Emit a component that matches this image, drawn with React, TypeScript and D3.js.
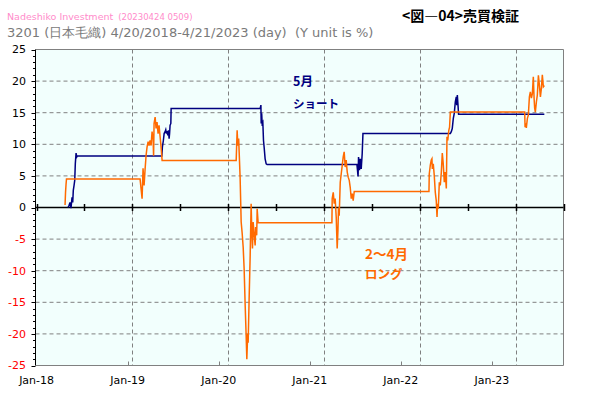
import React from 'react';
import * as d3 from 'd3';

// Long (Feb–Apr) strategy cumulative return, [decimal year, %]
const longSeries: [number, number][] = [
  [2018.298, 0.4], [2018.303, 2.4], [2018.308, 3.6], [2018.313, 4.5],
  [2019.081, 4.5], [2019.091, 3.0], [2019.102, 1.4], [2019.112, 6.2], [2019.123, 3.5],
  [2019.133, 6.0], [2019.144, 8.3], [2019.154, 9.6], [2019.165, 10.4], [2019.175, 9.8],
  [2019.185, 10.6], [2019.196, 9.8], [2019.206, 12.0], [2019.217, 10.8], [2019.222, 8.2],
  [2019.227, 13.3], [2019.238, 14.3], [2019.248, 12.5], [2019.258, 13.5], [2019.269, 11.7],
  [2019.279, 13.0], [2019.290, 11.2], [2019.300, 9.6], [2019.311, 7.45],
  [2020.084, 7.45], [2020.094, 12.2], [2020.101, 9.8], [2020.110, 10.9], [2020.115, 8.8],
  [2020.125, 4.8], [2020.136, -2.3], [2020.146, -4.0], [2020.157, -6.3], [2020.167, -9.7],
  [2020.178, -15.6], [2020.188, -20.3], [2020.195, -24.0], [2020.204, -20.0], [2020.209, -21.4],
  [2020.219, -14.5], [2020.230, -7.6], [2020.240, 0.6], [2020.248, -4.4], [2020.254, -6.5],
  [2020.261, -2.3], [2020.272, -4.4], [2020.282, -6.0], [2020.287, -3.1], [2020.298, -4.4],
  [2020.303, -0.2], [2020.313, -2.43],
  [2021.083, -2.43], [2021.086, 1.4], [2021.097, 2.4], [2021.107, 0.6], [2021.117, 1.4],
  [2021.128, -1.5], [2021.138, -6.5], [2021.146, -3.6], [2021.152, 0.0], [2021.159, -1.3],
  [2021.170, 4.0], [2021.180, 5.3], [2021.191, 6.7], [2021.201, 8.0], [2021.211, 8.8],
  [2021.222, 6.4], [2021.232, 7.5], [2021.243, 5.6], [2021.253, 4.8], [2021.264, 4.3],
  [2021.274, 3.2], [2021.285, 1.4], [2021.295, 2.2], [2021.305, 1.1], [2021.316, 2.55],
  [2022.096, 2.55], [2022.099, 5.3], [2022.110, 6.7], [2022.120, 7.5], [2022.127, 7.7],
  [2022.131, 6.1], [2022.141, 6.9], [2022.151, 5.1], [2022.162, 2.4], [2022.172, 1.1],
  [2022.180, -1.5], [2022.186, 0.6], [2022.193, -0.2], [2022.204, 4.0], [2022.214, 3.5],
  [2022.225, 5.6], [2022.235, 8.6], [2022.245, 6.9], [2022.256, 4.0], [2022.266, 5.6],
  [2022.277, 3.0], [2022.284, 11.2], [2022.292, 10.6], [2022.303, 12.2], [2022.311, 12.7],
  [2022.319, 15.1],
  [2023.095, 15.1], [2023.099, 12.7], [2023.105, 13.3], [2023.112, 12.6], [2023.123, 14.1],
  [2023.133, 14.6], [2023.144, 17.5], [2023.154, 18.3], [2023.165, 17.3], [2023.175, 18.0],
  [2023.185, 20.7], [2023.193, 17.3], [2023.199, 15.7], [2023.206, 15.1], [2023.217, 16.7],
  [2023.227, 17.8], [2023.238, 20.9], [2023.248, 19.4], [2023.259, 17.5], [2023.269, 18.8],
  [2023.279, 21.0], [2023.290, 19.1], [2023.300, 19.3],
];

// Short (May) strategy cumulative return, [decimal year, %]
const shortSeries: [number, number][] = [
  [2018.329, 0.0], [2018.339, 0.3], [2018.350, 0.8], [2018.360, -0.1], [2018.371, 1.6],
  [2018.378, 0.8], [2018.384, 2.7], [2018.392, 3.5], [2018.399, 4.3], [2018.405, 6.9],
  [2018.413, 8.6], [2018.420, 8.0], [2018.426, 8.15],
  [2019.308, 8.15], [2019.314, 9.6], [2019.324, 10.6], [2019.332, 11.7], [2019.342, 12.0],
  [2019.349, 12.3], [2019.356, 11.7], [2019.363, 12.1], [2019.370, 11.4], [2019.377, 12.2],
  [2019.384, 10.9], [2019.389, 11.7], [2019.394, 13.0], [2019.402, 13.3], [2019.405, 15.65],
  [2020.334, 15.65], [2020.342, 16.2], [2020.345, 13.3], [2020.350, 14.9], [2020.355, 13.3],
  [2020.362, 13.5], [2020.369, 10.6], [2020.376, 9.5], [2020.386, 7.7], [2020.397, 6.9],
  [2020.407, 6.8],
  [2021.344, 6.8], [2021.350, 5.9], [2021.356, 4.9], [2021.361, 8.0], [2021.371, 5.9],
  [2021.379, 7.7], [2021.389, 6.1], [2021.399, 8.5], [2021.407, 11.7],
  [2022.319, 11.7], [2022.329, 12.0], [2022.339, 12.5], [2022.350, 14.1], [2022.360, 14.9],
  [2022.371, 16.7], [2022.381, 17.5], [2022.386, 16.2], [2022.392, 17.8], [2022.399, 16.2],
  [2022.405, 14.75],
  [2023.300, 14.75],
];

const yMajorTicks = [-25, -20, -15, -10, -5, 0, 5, 10, 15, 20, 25];
const yMinorTicks = d3.range(-25, 26, 1);
const gridYears = [2019, 2020, 2021, 2022, 2023];
const halfYearTicks = [2018, 2018.5, 2019, 2019.5, 2020, 2020.5, 2021, 2021.5, 2022, 2022.5, 2023, 2023.5];
const axisYears = [2018, 2019, 2020, 2021, 2022, 2023];
const axisLabels = ['Jan-18', 'Jan-19', 'Jan-20', 'Jan-21', 'Jan-22', 'Jan-23'];

const ORANGE = '#ff6a00';
const NAVY = '#000080';
const GRID = '#808080';
const FONT = "'DejaVu Sans', Verdana, sans-serif";
const CJK = "'Noto Sans CJK JP', sans-serif";

export default function App() {
  const left = 35.5, right = 563.5, top = 49.5, bottom = 365.5;
  const x = d3.scaleLinear().domain([2018, 2023.5]).range([36.5, right]);
  const xAxis = d3.scaleLinear().domain([2018, 2023]).range([36.6, 491.9]);
  const y = d3.scaleLinear().domain([-25, 25]).range([bottom, top]);
  const line = d3.line<[number, number]>().x(d => x(d[0])).y(d => y(d[1]));

  return (
    <svg width={590} height={396} style={{ position: 'absolute', left: 0, top: 0, background: '#fff' }}>
      {/* plot background */}
      <rect x={left} y={top} width={right - left} height={bottom - top} fill="#f2fffd" />
      {/* horizontal grid */}
      {yMajorTicks.filter(v => v !== 0 && Math.abs(v) !== 25).map(v => (
        <line key={'hg' + v} x1={left} x2={right} y1={y(v)} y2={y(v)} stroke={GRID} strokeDasharray="4,3" strokeWidth={1} />
      ))}
      {/* vertical grid */}
      {gridYears.map(t => (
        <line key={'vg' + t} x1={Math.round(x(t)) + 0.5} x2={Math.round(x(t)) + 0.5} y1={top} y2={bottom} stroke={GRID} strokeDasharray="4,3" strokeWidth={1} />
      ))}
      {/* border */}
      <line x1={left} x2={right} y1={top} y2={top} stroke={GRID} strokeWidth={1} />
      <line x1={right} x2={right} y1={top} y2={bottom} stroke={GRID} strokeWidth={1} />
      <line x1={left} x2={right} y1={bottom} y2={bottom} stroke={GRID} strokeWidth={1} />
      {/* bottom axis ticks */}
      {axisYears.slice(1).map(t => (
        <line key={'bt' + t} x1={Math.round(xAxis(t)) + 0.5} x2={Math.round(xAxis(t)) + 0.5} y1={bottom - 4} y2={bottom} stroke={GRID} strokeWidth={1} />
      ))}
      {/* left axis */}
      <line x1={left} x2={left} y1={top} y2={bottom} stroke="#000" strokeWidth={1} />
      {yMinorTicks.map(v => (
        <line key={'mt' + v} x1={yMajorTicks.includes(v) ? left - 4 : left - 2.5} x2={left} y1={Math.round(y(v)) + 0.5} y2={Math.round(y(v)) + 0.5} stroke="#000" strokeWidth={1} />
      ))}
      {yMajorTicks.map(v => (
        <text key={'yl' + v} x={26} y={y(v)} dy="0.36em" textAnchor="end" fontFamily={FONT} fontSize={11} fill={v < 0 ? '#ff0000' : '#000'}>{v}</text>
      ))}
      {/* x labels */}
      {axisYears.map((t, i) => (
        <text key={'xl' + t} x={xAxis(t)} y={383.5} textAnchor="middle" fontFamily={FONT} fontSize={11} fill="#000">{axisLabels[i]}</text>
      ))}
      {/* zero line */}
      <line x1={left} x2={right} y1={y(0)} y2={y(0)} stroke="#000" strokeWidth={1.5} />
      {halfYearTicks.map(t => (
        <line key={'zt' + t} x1={Math.round(x(t)) + 0.5} x2={Math.round(x(t)) + 0.5} y1={y(0) - 3.5} y2={y(0) + 3.5} stroke="#000" strokeWidth={1.5} />
      ))}
      {/* series */}
      <path d={line(shortSeries) || ''} fill="none" stroke={NAVY} strokeWidth={1.5} strokeLinejoin="miter" />
      <path d={line(longSeries) || ''} fill="none" stroke={ORANGE} strokeWidth={1.5} strokeLinejoin="miter" />
      {/* annotations */}
      <text x={293} y={86} fontFamily={CJK} fontWeight="bold" fontSize={12.5} fill={NAVY}>5月</text>
      <text x={293} y={107.5} fontFamily={CJK} fontWeight="bold" fontSize={11.5} fill={NAVY}>ショート</text>
      <text x={365} y={259} fontFamily={CJK} fontWeight="bold" fontSize={13.5} fill={ORANGE}>2～4月</text>
      <text x={365} y={279} fontFamily={CJK} fontWeight="bold" fontSize={12.5} fill={ORANGE}>ロング</text>
      {/* titles */}
      <text x={7} y={20} fontFamily={FONT} fontSize={9.5} fill="#ff8ccb">Nadeshiko Investment
        <tspan fontSize={8.5} dx={5}>(20230424 0509)</tspan>
      </text>
      <text x={519} y={21} textAnchor="end" fontFamily={CJK} fontWeight="bold" fontSize={14} fill="#000">&lt;図―04&gt;売買検証</text>
      <text x={7} y={37} fontFamily={FONT} fontSize={13} fill="#7a7a7a" style={{ whiteSpace: 'pre' }}>3201 (日本毛織) 4/20/2018-4/21/2023 (day)  (Y unit is %)</text>
    </svg>
  );
}
